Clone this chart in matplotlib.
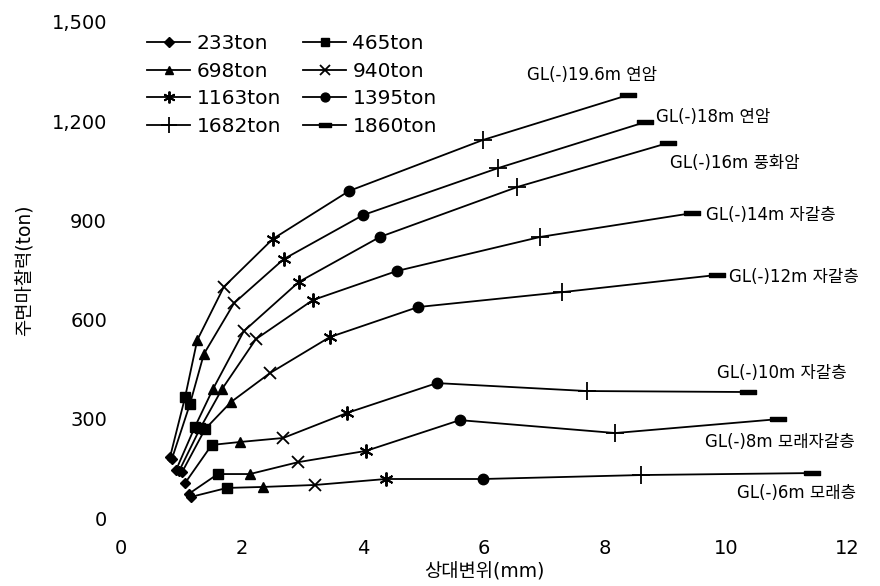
import matplotlib
matplotlib.use('Agg')
import matplotlib.pyplot as plt
from matplotlib.lines import Line2D

plt.rcParams['font.family'] = ['DejaVu Sans', 'Noto Sans CJK KR']

# load steps (one marker per step)
loads = ['233ton', '465ton', '698ton', '940ton', '1163ton', '1395ton', '1682ton', '1860ton']

# relative displacement (mm) / skin friction (ton) per depth, one value per load step
x_196 = [0.81, 1.06, 1.26, 1.70, 2.51, 3.77, 5.98, 8.38]
y_196 = [184, 366, 538, 699, 844, 989, 1143, 1279]
x_18 = [0.84, 1.14, 1.37, 1.87, 2.69, 4.00, 6.23, 8.66]
y_18 = [178, 345, 496, 650, 783, 916, 1058, 1197]
x_16 = [0.91, 1.22, 1.52, 2.03, 2.94, 4.28, 6.55, 9.04]
y_16 = [145, 275, 390, 565, 714, 850, 1001, 1134]
x_14 = [0.96, 1.31, 1.67, 2.23, 3.17, 4.56, 6.93, 9.44]
y_14 = [142, 272, 390, 541, 659, 747, 850, 922]
x_12 = [1.01, 1.39, 1.82, 2.46, 3.45, 4.91, 7.29, 9.85]
y_12 = [139, 269, 351, 438, 547, 638, 683, 735]
x_10 = [1.06, 1.50, 1.97, 2.68, 3.74, 5.22, 7.70, 10.36]
y_10 = [106, 221, 230, 242, 318, 408, 384, 381]
x_8 = [1.12, 1.60, 2.13, 2.93, 4.05, 5.60, 8.17, 10.86]
y_8 = [73, 133, 133, 169, 203, 296, 257, 299]
x_6 = [1.16, 1.75, 2.35, 3.21, 4.38, 5.98, 8.60, 11.42]
y_6 = [64, 91, 94, 100, 118, 118, 130, 136]

depth_names = ['GL(-)19.6m 연암', 'GL(-)18m 연암', 'GL(-)16m 풍화암', 'GL(-)14m 자갈층',
               'GL(-)12m 자갈층', 'GL(-)10m 자갈층', 'GL(-)8m 모래자갈층', 'GL(-)6m 모래층']
label_x = [6.71, 8.85, 9.07, 9.67, 10.05, 9.85, 9.65, 10.18]
label_y = [1340, 1212, 1075, 916, 730, 440, 230, 76]

xs = [x_196, x_18, x_16, x_14, x_12, x_10, x_8, x_6]
ys = [y_196, y_18, y_16, y_14, y_12, y_10, y_8, y_6]

dash = [(-1, -0.3), (1, -0.3), (1, 0.3), (-1, 0.3), (-1, -0.3)]
mstyle = [
    dict(marker='D', ms=5.5, mfc='k', mec='k'),
    dict(marker='s', ms=6.5, mfc='k', mec='k'),
    dict(marker='^', ms=7, mfc='k', mec='k'),
    dict(marker='x', ms=8, mec='k', mew=1.3),
    dict(marker=(6, 2, 0), ms=10, mec='k', mew=1.4),
    dict(marker='o', ms=7.5, mfc='k', mec='k'),
    dict(marker='+', ms=13, mec='k', mew=1.3),
    dict(marker=dash, ms=11, mfc='k', mec='k'),
]

fig = plt.figure(figsize=(8.8, 5.86), dpi=100)
ax = fig.add_axes([0.1375, 0.116, 0.825, 0.8465])

for x, y in zip(xs, ys):
    ax.plot(x, y, color='k', lw=1.3, clip_on=False, zorder=2)

for i in range(len(loads)):
    px = [x[i] for x in xs]
    py = [y[i] for y in ys]
    ax.plot(px, py, ls='none', clip_on=False, zorder=3, **mstyle[i])

for name, tx, ty in zip(depth_names, label_x, label_y):
    ax.text(tx, ty, name, fontsize=12, va='center', ha='left')

ax.set_xlim(0, 12)
ax.set_ylim(0, 1500)
ax.set_xticks([0, 2, 4, 6, 8, 10, 12])
ax.set_yticks([0, 300, 600, 900, 1200, 1500])
ax.set_yticklabels(['0', '300', '600', '900', '1,200', '1,500'])
ax.tick_params(axis='both', length=0, labelsize=14)
ax.tick_params(axis='x', pad=15)
ax.tick_params(axis='y', pad=10)
for s in ax.spines.values():
    s.set_visible(False)

ax.set_xlabel('상대변위(mm)', fontsize=13.5, labelpad=3)
ax.set_ylabel('주면마찰력(ton)', fontsize=13.5, labelpad=12)

# legend: row-wise order in 2 columns
handles = [Line2D([], [], color='k', lw=1.3, **mstyle[i]) for i in range(8)]
order = [0, 2, 4, 6, 1, 3, 5, 7]
leg = ax.legend([handles[i] for i in order], [loads[i] for i in order], ncol=2,
                loc='upper left', bbox_to_anchor=(0.036, 0.975), frameon=False,
                borderpad=0, borderaxespad=0,
                fontsize=14.5, handlelength=2.15, handletextpad=0.3,
                columnspacing=1.1, labelspacing=0.42, markerscale=0.85)

fig.savefig('out.png', dpi=100, facecolor='white')
